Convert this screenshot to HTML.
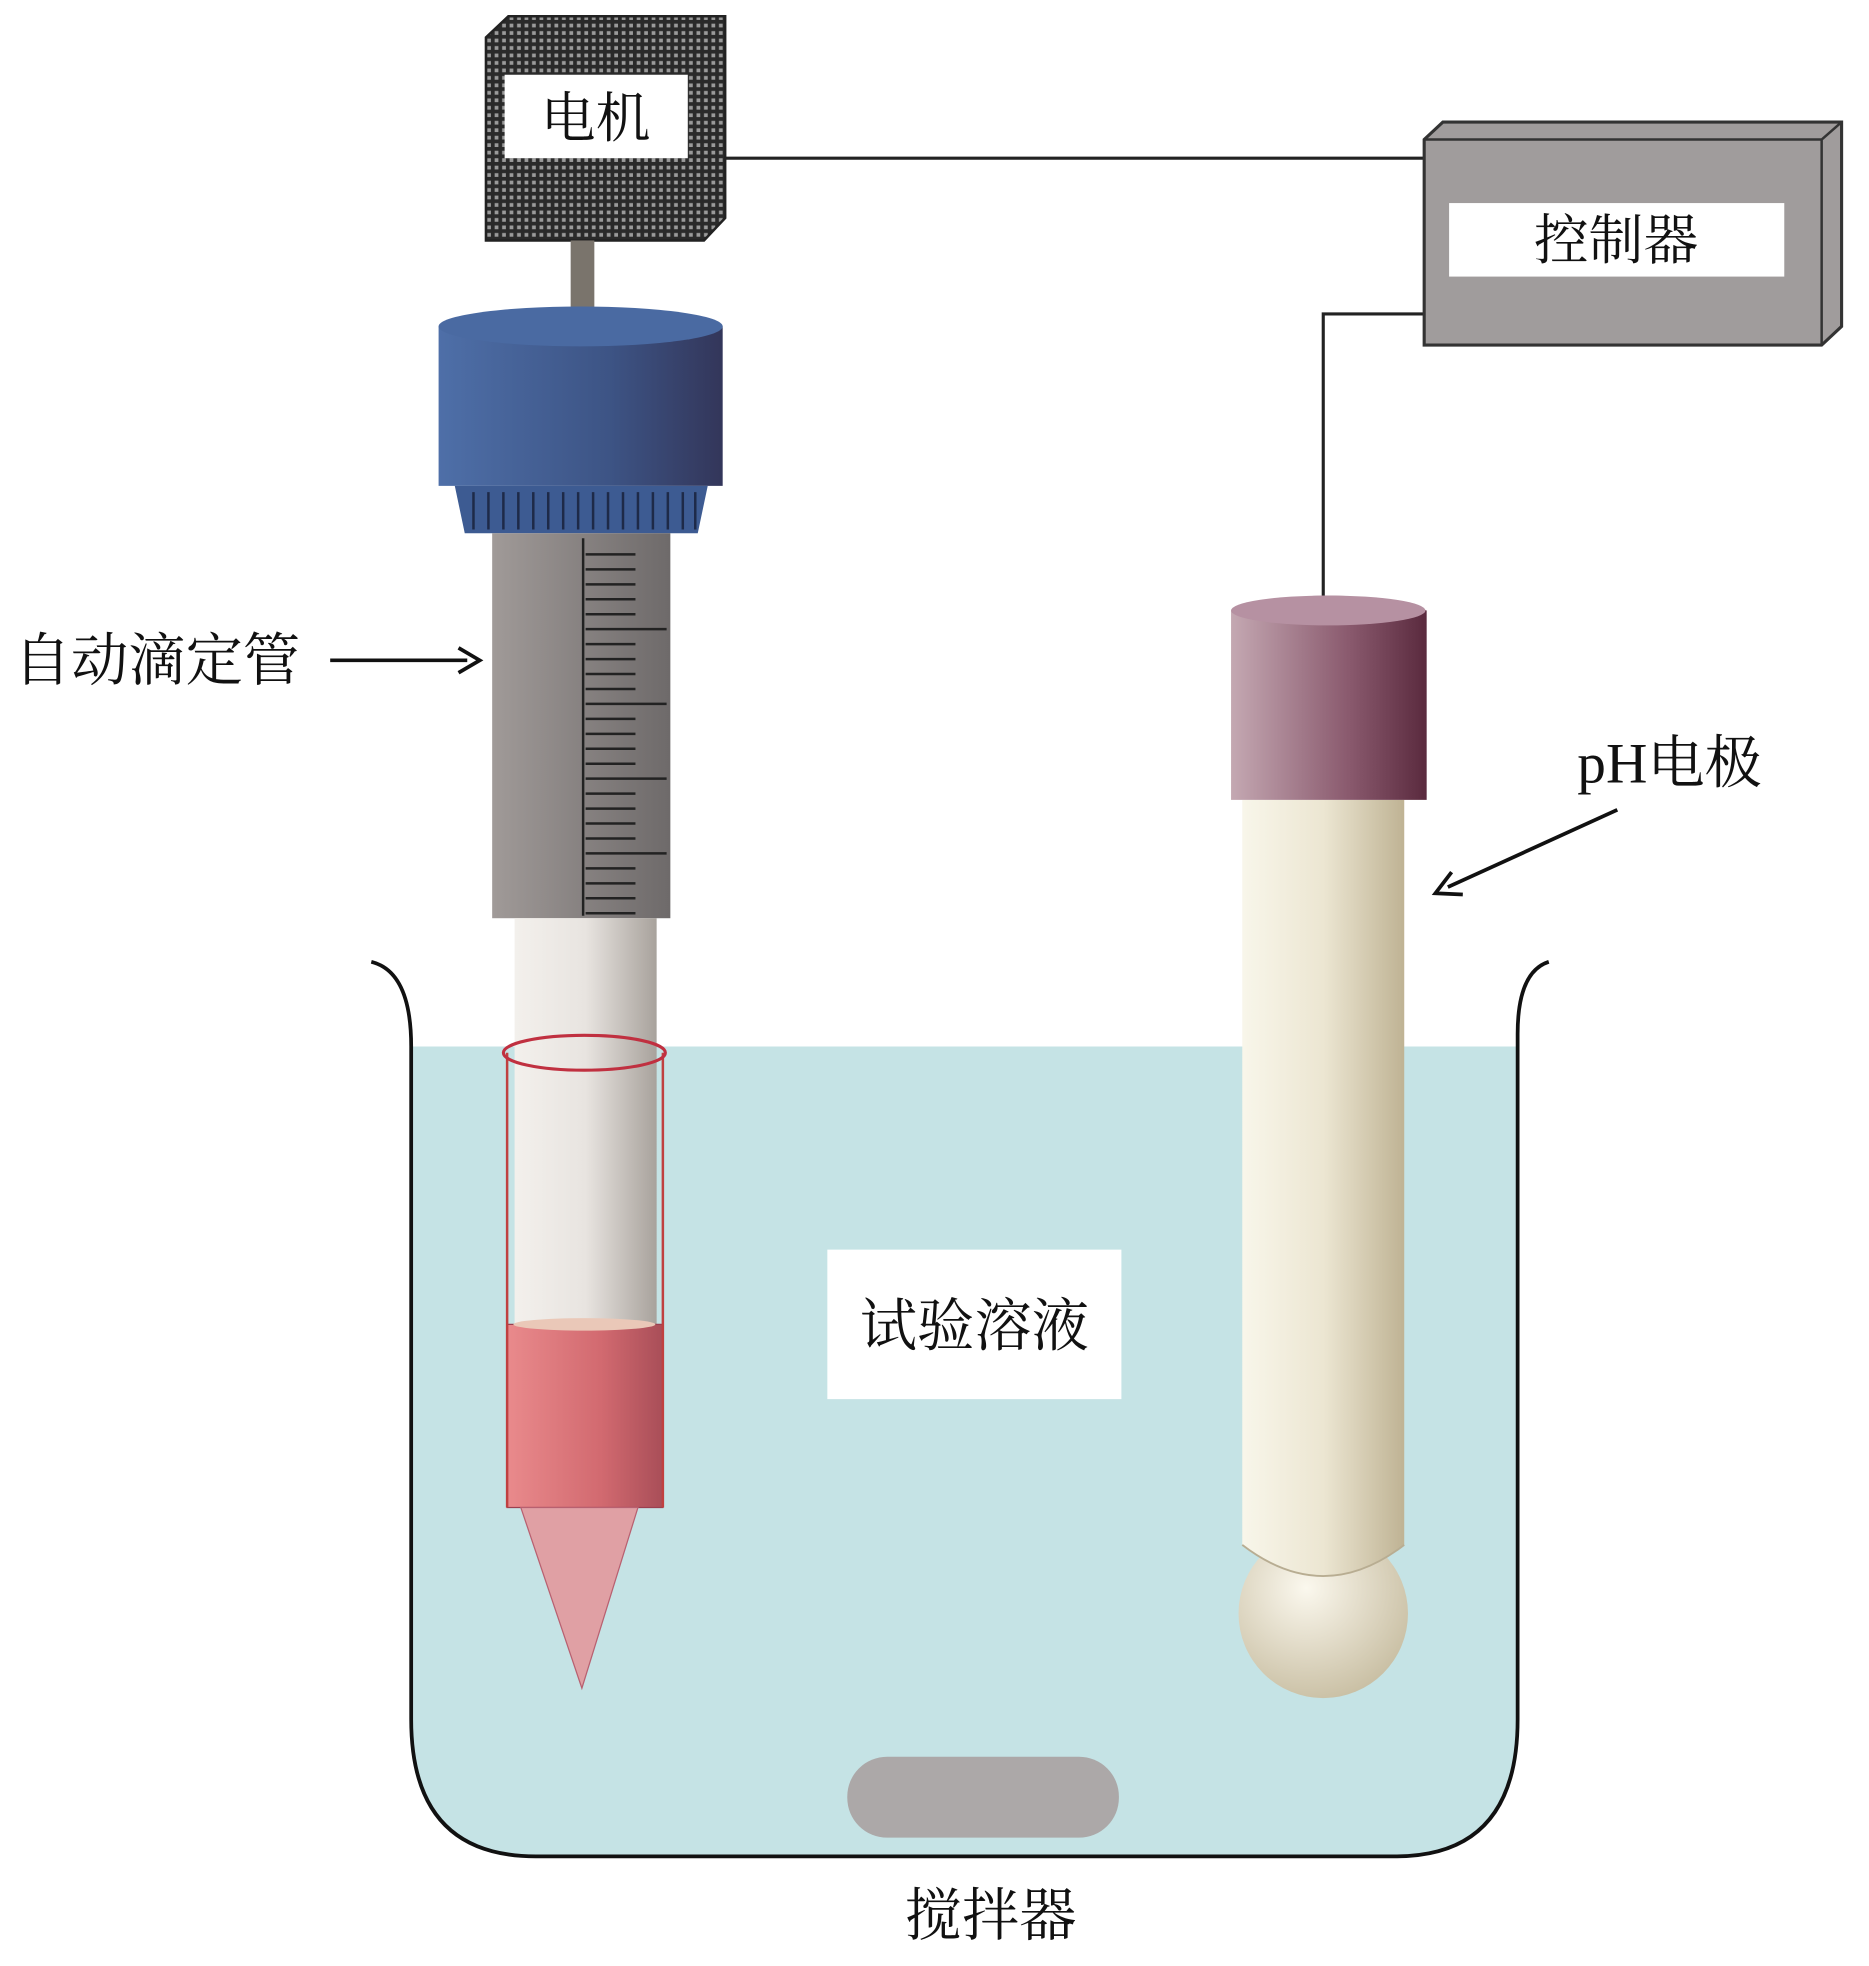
<!DOCTYPE html>
<html><head><meta charset="utf-8"><style>
html,body{margin:0;padding:0;background:#fff}
svg{display:block}
text{font-family:"Liberation Serif","Noto Serif CJK SC",serif;fill:#111}
</style></head><body>
<svg width="1869" height="1966" viewBox="0 0 1500 1578" preserveAspectRatio="none" xmlns="http://www.w3.org/2000/svg">
<defs>
<pattern id="chk" width="6" height="6" patternUnits="userSpaceOnUse">
<rect width="6" height="6" fill="#2a2a2a"/><rect x="1" y="1" width="3" height="3" fill="#9a9a9a"/>
</pattern>
<linearGradient id="blue" x1="0" x2="1"><stop offset="0" stop-color="#4e6fa8"/><stop offset="0.6" stop-color="#3d5485"/><stop offset="1" stop-color="#33365a"/></linearGradient>
<linearGradient id="gray" x1="0" x2="1"><stop offset="0" stop-color="#a09a98"/><stop offset="1" stop-color="#6e6a6a"/></linearGradient>
<linearGradient id="wt" x1="0" x2="1"><stop offset="0" stop-color="#f3f0ec"/><stop offset="0.5" stop-color="#e8e4e0"/><stop offset="1" stop-color="#a8a29c"/></linearGradient>
<linearGradient id="red" x1="0" x2="1"><stop offset="0" stop-color="#e98a8c"/><stop offset="0.6" stop-color="#d26a70"/><stop offset="1" stop-color="#a94e58"/></linearGradient>
<linearGradient id="mar" x1="0" x2="1"><stop offset="0" stop-color="#c4a8b2"/><stop offset="0.6" stop-color="#8a5a6e"/><stop offset="1" stop-color="#5a2a3e"/></linearGradient>
<linearGradient id="crm" x1="0" x2="1"><stop offset="0" stop-color="#f8f6ea"/><stop offset="0.5" stop-color="#ece6d2"/><stop offset="1" stop-color="#bfb394"/></linearGradient>
<radialGradient id="bulb" cx="0.4" cy="0.35" r="0.7"><stop offset="0" stop-color="#fbf8ee"/><stop offset="1" stop-color="#c8bea2"/></radialGradient>
</defs>
<path d="M330,840 L1218,840 L1218,1380 Q1218,1490 1120,1490 L430,1490 Q330,1490 330,1380 Z" fill="#c5e3e5"/>
<path d="M298,772 Q330,780 330,840 L330,1380 Q330,1490 430,1490 L1120,1490 Q1218,1490 1218,1380 L1218,830 Q1218,780 1243,772" fill="none" stroke="#111" stroke-width="3"/>
<polyline points="575,127 1143,127" fill="none" stroke="#222" stroke-width="2.5"/>
<polyline points="1143,252 1062,252 1062,490" fill="none" stroke="#222" stroke-width="2.5"/>
<path d="M390,30 L408,13 L582,13 L582,175 L565,193 L390,193 Z" fill="url(#chk)" stroke="#222" stroke-width="2"/>
<rect x="405" y="60" width="147" height="67" fill="#fff"/>
<text x="478" y="110" font-size="44" text-anchor="middle">电机</text>
<rect x="458" y="193" width="19" height="70" fill="#7a746c"/>
<path d="M1143,112 L1158,98 L1478,98 L1478,262 L1462,277 L1143,277 Z" fill="#a09c9c" stroke="#333" stroke-width="2.5"/>
<path d="M1462,112 L1478,98 M1143,112 L1462,112 L1462,277" fill="none" stroke="#333" stroke-width="2"/>
<rect x="1163" y="163" width="269" height="59" fill="#fff"/>
<text x="1297" y="208" font-size="44" text-anchor="middle">控制器</text>
<path d="M352,262 Q466,236 580,262 L580,390 L352,390 Z" fill="url(#blue)"/>
<ellipse cx="466" cy="262" rx="114" ry="16" fill="#4a6aa2"/>
<path d="M365,390 L568,390 L560,428 L373,428 Z" fill="#3d5b92"/>
<g stroke="#1e2a48" stroke-width="2">
<path d="M380,395v30M392,395v30M404,395v30M416,395v30M428,395v30M440,395v30M452,395v30M464,395v30M476,395v30M488,395v30M500,395v30M512,395v30M524,395v30M536,395v30M548,395v30M558,395v30"/>
</g>
<rect x="395" y="428" width="143" height="309" fill="url(#gray)"/>
<g stroke="#222" stroke-width="2">
<path d="M468,432V735"/>
<path d="M470,445h40M470,457h40M470,469h40M470,481h40M470,493h40M470,505h65M470,517h40M470,529h40M470,541h40M470,553h40M470,565h65M470,577h40M470,589h40M470,601h40M470,613h40M470,625h65M470,637h40M470,649h40M470,661h40M470,673h40M470,685h65M470,697h40M470,709h40M470,721h40M470,733h40"/>
</g>
<rect x="413" y="737" width="114" height="326" fill="url(#wt)"/>
<rect x="407" y="1063" width="125" height="147" fill="url(#red)" stroke="#9a4050" stroke-width="1"/>
<ellipse cx="469" cy="1063" rx="57" ry="5" fill="#eac8b8"/>
<path d="M418,1210 L512,1210 L467,1355 Z" fill="#e0a0a4" stroke="#b86070" stroke-width="1"/>
<path d="M407,845 L407,1210 M532,845 L532,1210" stroke="#c04040" stroke-width="2"/>
<ellipse cx="469" cy="845" rx="65" ry="14" fill="none" stroke="#c03040" stroke-width="2.5"/>
<circle cx="1062" cy="1295" r="68" fill="url(#bulb)"/>
<path d="M997,642 L1127,642 L1127,1240 Q1062,1290 997,1240 Z" fill="url(#crm)"/>
<path d="M997,1240 Q1062,1290 1127,1240" fill="none" stroke="#b8ad92" stroke-width="1.5"/>
<path d="M988,490 Q1066,466 1145,490 L1145,642 L988,642 Z" fill="url(#mar)"/>
<ellipse cx="1066" cy="490" rx="78" ry="12" fill="#b691a2"/>
<rect x="664" y="1003" width="236" height="120" fill="#fff"/>
<text x="782" y="1080" font-size="46" text-anchor="middle">试验溶液</text>
<rect x="680" y="1410" width="218" height="65" rx="32" fill="#aca8a8"/>
<text x="795" y="1553" font-size="46" text-anchor="middle">搅拌器</text>
<text x="126" y="546" font-size="46" text-anchor="middle">自动滴定管</text>
<line x1="265" y1="530" x2="375" y2="530" stroke="#111" stroke-width="3"/>
<path d="M368,520 L385,530 L368,540" fill="none" stroke="#111" stroke-width="3"/>
<text x="1340" y="628" font-size="46" text-anchor="middle">pH电极</text>
<line x1="1298" y1="650" x2="1162" y2="712" stroke="#111" stroke-width="3"/>
<path d="M1165,700 L1152,717 L1174,718" fill="none" stroke="#111" stroke-width="3"/>
</svg>
</body></html>
